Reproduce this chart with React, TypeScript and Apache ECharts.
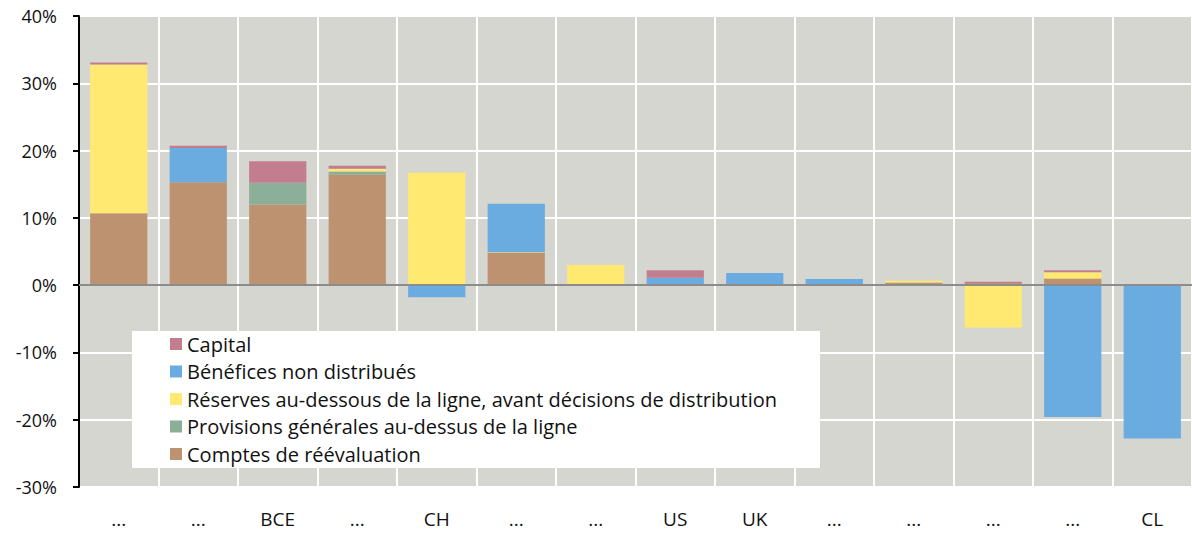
import React, { useEffect, useRef } from "react";
import * as echarts from "echarts";

const categories = ["...", "...", "BCE", "...", "CH", "...", "...", "US", "UK", "...", "...", "...", "...", "CL"];

const seriesNames = [
  "Comptes de réévaluation",
  "Provisions générales au-dessus de la ligne",
  "Réserves au-dessous de la ligne, avant décisions de distribution",
  "Bénéfices non distribués",
  "Capital",
];

// values in %; positive and negative parts stack separately
const comptes = [10.7, 15.3, 12.0, 16.4, 0, 4.8, 0, 0, 0, 0, 0.4, 0.3, 1.0, 0];
const provisions = [0, 0, 3.2, 0.5, 0, 0, 0, 0, 0, 0, 0, 0, 0, 0];
const reserves = [22.1, 0, 0, 0.4, 16.7, 0.1, 3.0, 0, 0, 0, 0.25, 0, 0.9, 0];
const reservesNeg = [0, 0, 0, 0, 0, 0, 0, 0, 0, 0, 0, -6.3, 0, 0];
const benefices = [0, 5.1, 0, 0, -1.8, 7.2, 0, 1.1, 1.8, 0.9, 0, 0, 0, 0];
const beneficesNeg = [0, 0, 0, 0, 0, 0, 0, 0, 0, 0, 0, 0, -19.6, -22.8];
const capital = [0.3, 0.3, 3.2, 0.45, 0, 0, 0, 1.1, 0, 0, 0, 0.2, 0.3, 0];

const yTicks = [-30, -20, -10, 0, 10, 20, 30, 40];

const colors = {
  comptes: "#BD9270",
  provisions: "#8BAF98",
  reserves: "#FFE970",
  benefices: "#6AABE0",
  capital: "#C27E8E",
};

export default function App() {
  const ref = useRef<HTMLDivElement>(null);
  useEffect(() => {
    document.body.style.margin = "0";
    if (!ref.current) return;
    const chart = echarts.init(ref.current, undefined, { renderer: "svg" });
    const merge = (a: number[], b: number[]) => a.map((v, i) => v + b[i]);
    const font = "'Open Sans', 'Noto Sans', sans-serif";
    const bar = (name: string, data: number[], color: string, extra: any = {}) => ({
      name,
      type: "bar",
      stack: "total",
      data,
      barCategoryGap: "28%",
      itemStyle: { color },
      emphasis: { disabled: true },
      ...extra,
    });
    chart.setOption({
      animation: false,
      backgroundColor: "#ffffff",
      grid: { left: 79, right: 0, top: 16, bottom: 47, show: true, backgroundColor: "#D6D6D1", borderWidth: 0 },
      legend: {
        orient: "vertical",
        left: 132,
        top: 331,
        backgroundColor: "#ffffff",
        padding: [3, 43, 4, 38],
        itemWidth: 12,
        itemHeight: 12,
        itemGap: 7.5,
        itemStyle: { borderWidth: 0 },
        icon: "rect",
        selectedMode: false,
        textStyle: { fontFamily: font, fontSize: 20, color: "#111", lineHeight: 20 },
        data: [seriesNames[4], seriesNames[3], seriesNames[2], seriesNames[1], seriesNames[0]],
      },
      xAxis: {
        type: "category",
        data: categories,
        axisLine: { show: false },
        axisTick: { show: false },
        splitLine: { show: true, lineStyle: { color: "#ffffff", width: 2 } },
        axisLabel: { fontFamily: font, fontSize: 19, color: "#111", margin: 22, interval: 0 },
      },
      yAxis: {
        type: "value",
        min: -30,
        max: 40,
        interval: 10,
        axisLine: { show: true, lineStyle: { color: "#000", width: 2 } },
        axisTick: { show: true, length: 6, lineStyle: { color: "#000", width: 2 } },
        splitLine: { show: true, lineStyle: { color: "#ffffff", width: 2 } },
        axisLabel: {
          fontFamily: font,
          fontSize: 18,
          color: "#111",
          margin: 22,
          formatter: (v: number) => (yTicks.includes(v) ? `${v}%` : ""),
        },
      },
      series: [
        bar(seriesNames[0], comptes, colors.comptes, {
          markLine: {
            silent: true,
            symbol: "none",
            label: { show: false },
            lineStyle: { color: "#8C8C8C", width: 2, type: "solid" },
            data: [{ yAxis: 0 }],
            z: 10,
          },
        }),
        bar(seriesNames[1], provisions, colors.provisions),
        bar(seriesNames[2], merge(reserves, reservesNeg), colors.reserves),
        bar(seriesNames[3], merge(benefices, beneficesNeg), colors.benefices),
        bar(seriesNames[4], capital, colors.capital),
      ],
    });
    return () => chart.dispose();
  }, []);
  return <div ref={ref} style={{ width: 1192, height: 534 }} />;
}
